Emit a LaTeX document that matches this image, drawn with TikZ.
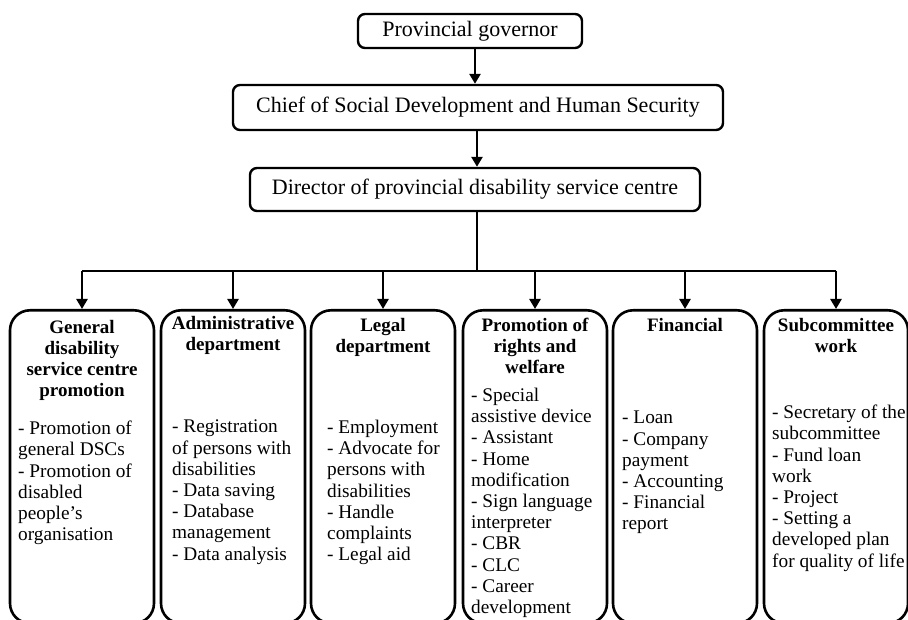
\documentclass[tikz,border=0pt]{standalone}
\usepackage{fontspec}
\setmainfont{Liberation Serif}
\usetikzlibrary{arrows.meta,positioning,calc}
\tikzset{
  topbox/.style={draw, line width=2.4pt, rounded corners=7pt, inner sep=0pt, minimum height=#1},
  deptbox/.style={draw, line width=2.6pt, rounded corners=20pt, inner sep=0pt, minimum width=144pt, minimum height=313pt, anchor=north},
  toptext/.style={font=\fontsize{22}{24}\selectfont},
  titletext/.style={font=\fontsize{19}{21}\selectfont\bfseries, align=center, anchor=north, inner sep=0pt},
  bodytext/.style={font=\fontsize{19.3}{21.2}\selectfont, align=left, anchor=north west, inner sep=0pt},
  conn/.style={line width=2.8pt},
  arr/.style={line width=2.8pt, -{Triangle[width=11pt,length=10pt]}},
}
\begin{document}
\begin{tikzpicture}[x=1pt,y=-1pt]
\useasboundingbox (0,0) rectangle (908,620);
% top chain
\node[topbox=34pt, minimum width=224pt] (g) at (470,31) {};
\node[toptext] at (g.center) {Provincial governor};
\node[topbox=45pt, minimum width=490pt] (c) at (478,107.5) {};
\node[toptext] at (c.center) {Chief of Social Development and Human Security};
\node[topbox=43pt, minimum width=450pt] (d) at (475,189.5) {};
\node[toptext] at (d.center) {Director of provincial disability service centre};
\draw[arr] (g.south -| 475,0) -- (c.north -| 475,0);
\draw[arr] (c.south -| 477,0) -- (d.north -| 477,0);
% department boxes
\node[deptbox] (b1) at (82,309) {};
\node[deptbox] (b2) at (233,309) {};
\node[deptbox] (b3) at (383,309) {};
\node[deptbox] (b4) at (535,309) {};
\node[deptbox] (b5) at (685,309) {};
\node[deptbox] (b6) at (836,309) {};
% bus
\coordinate (bus) at (477,271);
\draw[conn] (d.south -| bus) -- (bus);
\draw[conn] (b1.north |- bus) -- (b6.north |- bus);
\foreach \b in {b1,b2,b3,b4,b5,b6}{
  \draw[arr] (\b.north |- bus) -- (\b.north);
}
% titles
\node[titletext] at (82,320) {General\\disability\\service centre\\promotion};
\node[titletext] at (233,316) {Administrative\\department};
\node[titletext] at (383,318) {Legal\\department};
\node[titletext] at (535,318) {Promotion of\\rights and\\welfare};
\node[titletext] at (685,318) {Financial};
\node[titletext] at (836,318) {Subcommittee\\work};
% bodies
\node[bodytext] at (18,421) {- Promotion of\\general DSCs\\- Promotion of\\disabled\\people's\\organisation};
\node[bodytext] at (172,420) {- Registration\\of persons with\\disabilities\\- Data saving\\- Database\\management\\- Data analysis};
\node[bodytext] at (327,420) {- Employment\\- Advocate for\\persons with\\disabilities\\- Handle\\complaints\\- Legal aid};
\node[bodytext] at (471,388) {- Special\\assistive device\\- Assistant\\- Home\\modification\\- Sign language\\interpreter\\- CBR\\- CLC\\- Career\\development};
\node[bodytext] at (622,411) {- Loan\\- Company\\payment\\- Accounting\\- Financial\\report};
\node[bodytext] at (772,405) {- Secretary of the\\subcommittee\\- Fund loan\\work\\- Project\\- Setting a\\developed plan\\for quality of life};
\end{tikzpicture}
\end{document}
